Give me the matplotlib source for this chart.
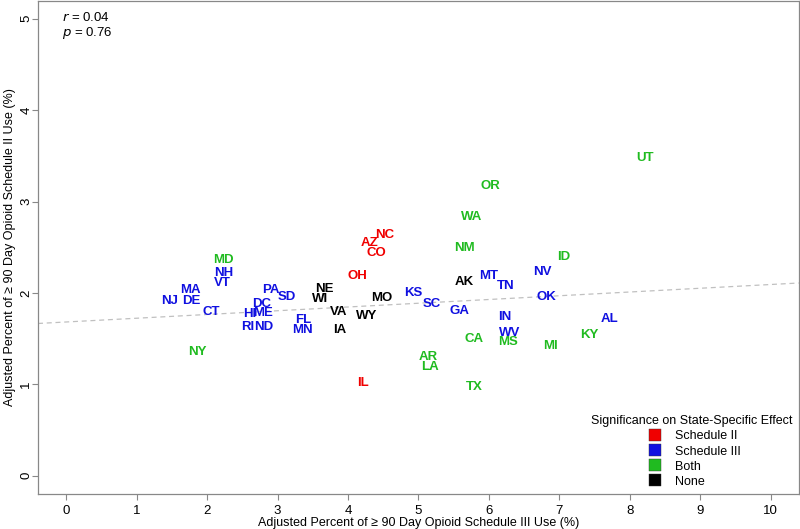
import matplotlib
matplotlib.use("Agg")
import matplotlib.pyplot as plt
from matplotlib.lines import Line2D

plt.rcParams['font.family'] = ['Liberation Sans', 'DejaVu Sans']

# state labels, x = schedule III use (%), y = schedule II use (%), group
states = ['UT', 'OR', 'WA', 'NM', 'ID', 'NV', 'AK', 'MT', 'TN', 'OK',
          'GA', 'IN', 'AL', 'KY', 'WV', 'MS', 'MI', 'CA', 'TX', 'AR',
          'LA', 'KS', 'SC', 'MO', 'NC', 'AZ', 'CO', 'OH', 'IL', 'NE',
          'WI', 'VA', 'WY', 'IA', 'FL', 'MN', 'PA', 'SD', 'DC', 'HI',
          'ME', 'RI', 'ND', 'MD', 'NH', 'VT', 'MA', 'NJ', 'DE', 'CT', 'NY']
sched3 = [8.22, 6.02, 5.75, 5.65, 7.06, 6.76, 5.65, 5.99, 6.24, 6.81,
          5.58, 6.23, 7.72, 7.43, 6.30, 6.27, 6.88, 5.79, 5.79, 5.14,
          5.16, 4.92, 5.19, 4.48, 4.52, 4.30, 4.41, 4.13, 4.21, 3.67,
          3.60, 3.87, 4.27, 3.88, 3.37, 3.36, 2.90, 3.13, 2.77, 2.60,
          2.80, 2.57, 2.80, 2.23, 2.23, 2.22, 1.76, 1.47, 1.78, 2.06, 1.86]
sched2 = [3.48, 3.17, 2.83, 2.49, 2.39, 2.23, 2.12, 2.19, 2.08, 1.96,
          1.80, 1.74, 1.72, 1.54, 1.56, 1.46, 1.42, 1.50, 0.97, 1.30,
          1.19, 2.00, 1.88, 1.94, 2.63, 2.55, 2.44, 2.19, 1.01, 2.04,
          1.93, 1.79, 1.75, 1.59, 1.71, 1.60, 2.03, 1.96, 1.88, 1.77,
          1.78, 1.63, 1.63, 2.36, 2.22, 2.11, 2.03, 1.91, 1.91, 1.79, 1.35]
group = ['Both', 'Both', 'Both', 'Both', 'Both', 'Schedule III', 'None', 'Schedule III', 'Schedule III', 'Schedule III',
         'Schedule III', 'Schedule III', 'Schedule III', 'Both', 'Schedule III', 'Both', 'Both', 'Both', 'Both', 'Both',
         'Both', 'Schedule III', 'Schedule III', 'None', 'Schedule II', 'Schedule II', 'Schedule II', 'Schedule II', 'Schedule II', 'None',
         'None', 'None', 'None', 'None', 'Schedule III', 'Schedule III', 'Schedule III', 'Schedule III', 'Schedule III', 'Schedule III',
         'Schedule III', 'Schedule III', 'Schedule III', 'Both', 'Schedule III', 'Schedule III', 'Schedule III', 'Schedule III', 'Schedule III', 'Schedule III', 'Both']

groups = ['Schedule II', 'Schedule III', 'Both', 'None']
colors = {'Schedule II': '#F00000', 'Schedule III': '#1010E0', 'Both': '#20BB20', 'None': '#000000'}

# fitted line
fit_intercept = 1.683
fit_slope = 0.041

fig = plt.figure(figsize=(8, 5.29), dpi=100)
ax = fig.add_axes([0.0475, 0.066, 0.951, 0.933])

for s, x, y, g in zip(states, sched3, sched2, group):
    ax.text(x, y, s, color=colors[g], fontsize=9.5, fontweight='bold',
            ha='center', va='center')

ax.axline((0, fit_intercept), slope=fit_slope, color='#c0c0c0', lw=0.9, ls=(0, (4, 3)))

ax.set_xlim(-0.4, 10.4)
ax.set_ylim(-0.2, 5.2)
ax.set_xticks(range(0, 11))
ax.set_yticks(range(0, 6))
for lab in ax.get_yticklabels():
    lab.set_rotation(90)
    lab.set_va('center')
ax.tick_params(colors='#888888', labelcolor='black', labelsize=9.5, length=4, width=0.8)
ax.tick_params(axis='y', pad=0)

for sp in ax.spines.values():
    sp.set_color('#888888')
    sp.set_linewidth(0.9)

ax.set_xlabel('Adjusted Percent of \u2265 90 Day Opioid Schedule III Use (%)', fontsize=9, labelpad=0)
ax.set_ylabel('Adjusted Percent of \u2265 90 Day Opioid Schedule II Use (%)', fontsize=9, labelpad=3)

ax.text(-0.06, 4.92, '$r$ = 0.04\n$p$ = 0.76', fontsize=9.5, va='center', ha='left',
        linespacing=1.05)

handles = [Line2D([], [], marker='s', ls='none', color=colors[g], markersize=8,
                  markeredgecolor='#333333', markeredgewidth=0.3) for g in groups]
leg = ax.legend(handles, groups, title='Significance on State-Specific Effect',
                loc='lower right', bbox_to_anchor=(1.0, 0.0), frameon=False,
                fontsize=9, title_fontsize=9, handletextpad=0.6, labelspacing=0.25,
                borderaxespad=0.1)
leg._legend_box.align = 'center'

fig.savefig('out.png', dpi=100)
